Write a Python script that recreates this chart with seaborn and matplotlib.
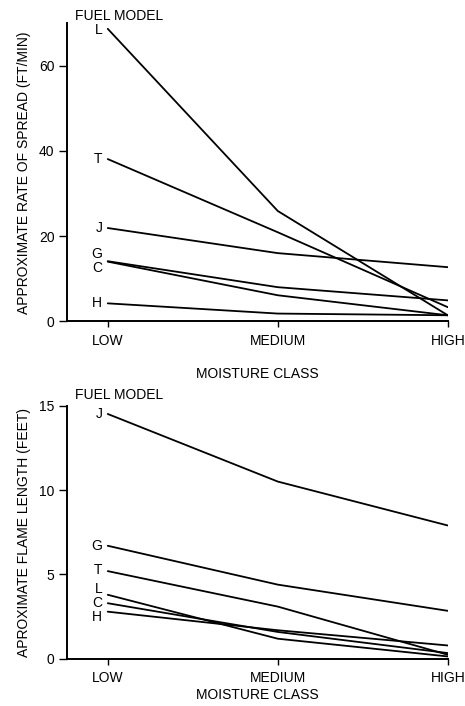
import pandas as pd
import seaborn as sns
import matplotlib.pyplot as plt

# moisture classes on the x axis
classes = ["LOW", "MEDIUM", "HIGH"]

# rate of spread (ft/min) per fuel model
spread_models = ["L", "T", "J", "G", "C", "H"]
spread_L = [68.7, 25.9, 1.4]
spread_T = [38.1, 20.9, 3.3]
spread_J = [21.9, 16.0, 12.7]
spread_G = [14.1, 8.0, 4.9]
spread_C = [14.0, 6.1, 1.4]
spread_H = [4.2, 1.8, 1.4]

# flame length (feet) per fuel model
flame_models = ["J", "G", "T", "L", "C", "H"]
flame_J = [14.5, 10.5, 7.9]
flame_G = [6.7, 4.4, 2.85]
flame_T = [5.2, 3.1, 0.25]
flame_L = [3.8, 1.2, 0.15]
flame_C = [3.3, 1.6, 0.35]
flame_H = [2.8, 1.7, 0.8]

spread_vals = [spread_L, spread_T, spread_J, spread_G, spread_C, spread_H]
flame_vals = [flame_J, flame_G, flame_T, flame_L, flame_C, flame_H]


def long_table(models, values):
    rows = []
    for m, vals in zip(models, values):
        for c, v in zip(classes, vals):
            rows.append({"model": m, "moisture": c, "value": v})
    return pd.DataFrame(rows)


spread_df = long_table(spread_models, spread_vals)
flame_df = long_table(flame_models, flame_vals)

sns.set_style("ticks")
plt.rcParams["font.family"] = ["Liberation Sans", "DejaVu Sans"]
plt.rcParams["font.size"] = 10
plt.rcParams["text.color"] = "black"
plt.rcParams["axes.labelcolor"] = "black"

fig = plt.figure(figsize=(4.65, 7.06), dpi=100)
ax1 = fig.add_axes([0.144, 0.545, 0.819, 0.422])
ax2 = fig.add_axes([0.144, 0.0666, 0.819, 0.359])

black = {m: "black" for m in "LTJGCH"}


def draw(ax, df, models, values, ylabel, ylim, yticks, nudges, labelpad):
    sns.lineplot(data=df, x="moisture", y="value", hue="model",
                 palette=black, linewidth=1.3, legend=False, ax=ax, sort=False)
    ax.set_xlim(-0.24, 2.0)
    ax.set_ylim(*ylim)
    ax.set_yticks(yticks)
    ax.set_xlabel("MOISTURE CLASS", fontsize=10, labelpad=labelpad)
    ax.set_ylabel(ylabel, fontsize=10, labelpad=6)
    sns.despine(ax=ax)
    for s in ["left", "bottom"]:
        ax.spines[s].set_linewidth(1.4)
        ax.spines[s].set_color("black")
    ax.tick_params(axis="y", length=6, width=1, pad=3, labelsize=10, colors="black")
    ax.tick_params(axis="x", length=4, width=1, pad=5, labelsize=10, colors="black")
    for m, vals in zip(models, values):
        ax.annotate(m, (0, vals[0]), xytext=(-4, nudges.get(m, 0)),
                    textcoords="offset points", ha="right", va="center",
                    fontsize=10)


draw(ax1, spread_df, spread_models, spread_vals,
     "APPROXIMATE RATE OF SPREAD (FT/MIN)", (0, 70), [0, 20, 40, 60],
     {"G": 5.5, "C": -4.5, "L": -1}, 14)
ax1.text(0.02, 1.025, "FUEL MODEL", transform=ax1.transAxes,
         va="center", ha="left", fontsize=10)

draw(ax2, flame_df, flame_models, flame_vals,
     "APROXIMATE FLAME LENGTH (FEET)", (0, 15), [0, 5, 10, 15],
     {"L": 4.5, "H": -3.5, "T": 1}, 2)
ax2.text(0.02, 1.04, "FUEL MODEL", transform=ax2.transAxes,
         va="center", ha="left", fontsize=10)

fig.savefig("out.png", dpi=100)
